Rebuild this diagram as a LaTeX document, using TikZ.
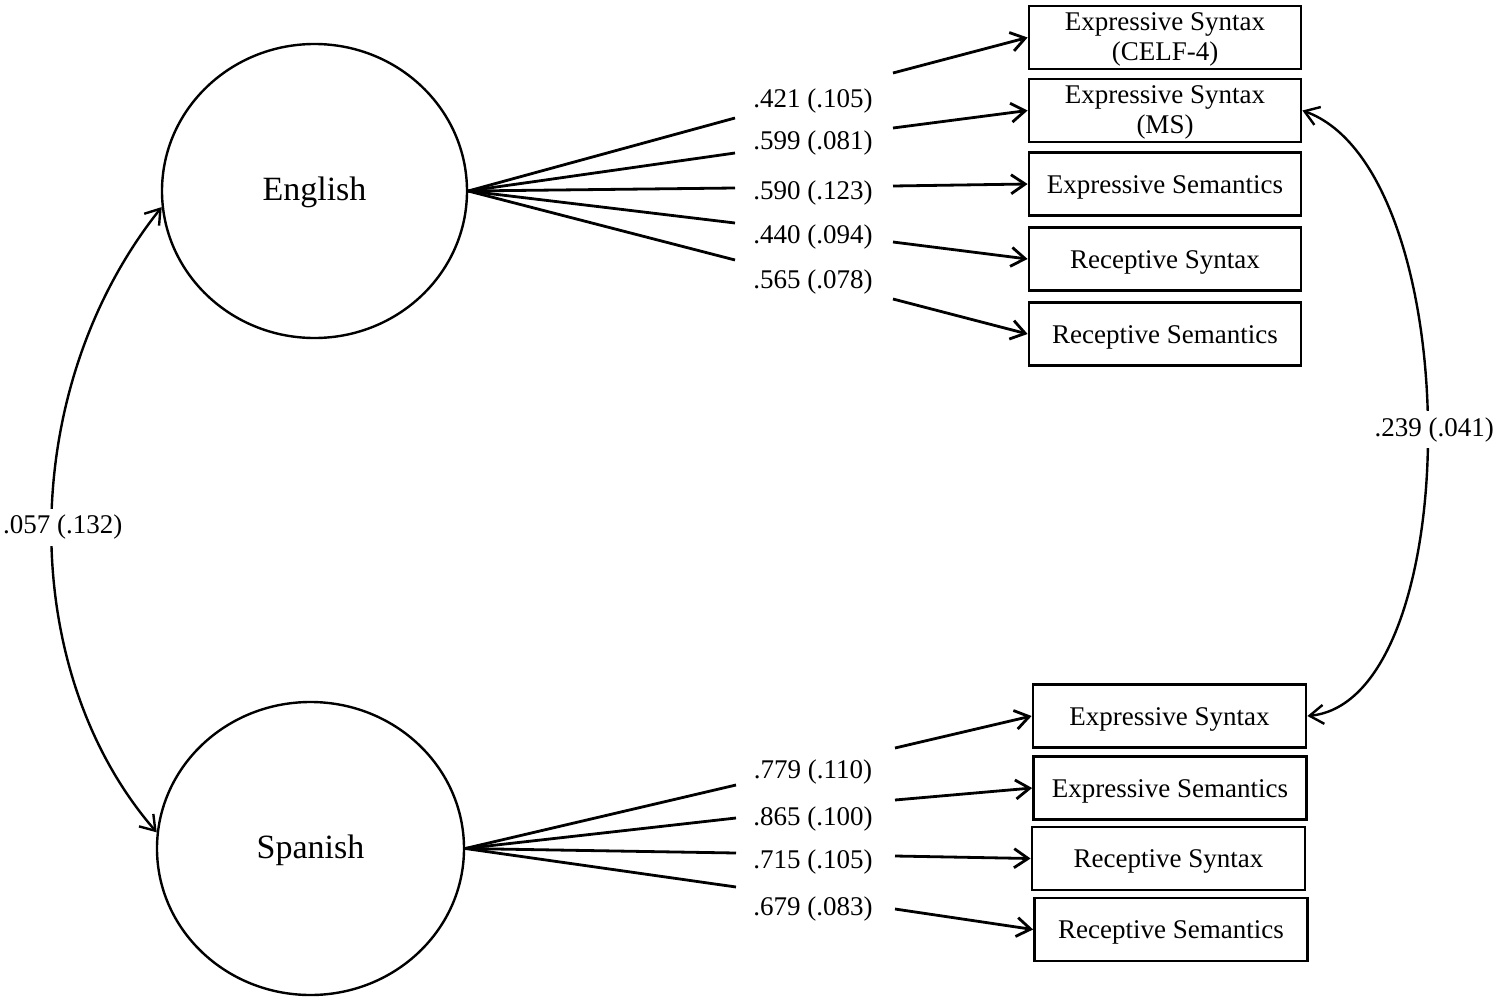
\documentclass[tikz,border=0pt]{standalone}
\usepackage{fontspec}
\setmainfont{Liberation Serif}
\usetikzlibrary{arrows.meta,shapes.geometric}
\begin{document}
\begin{tikzpicture}[x=1pt,y=-1pt,
  lat/.style={ellipse, draw, line width=2.4pt, inner sep=0pt, text height=26pt, text depth=7pt, font=\fontsize{34}{40}\selectfont},
  obs/.style={rectangle, draw, line width=2.8pt, minimum width=272pt, minimum height=63pt, inner sep=0pt, align=center, text height=24pt, text depth=6pt, font=\fontsize{27}{30}\selectfont},
  lbl/.style={font=\fontsize{27}{30}\selectfont, inner sep=1pt},
  ln/.style={line width=2.8pt},
  arr/.style={line width=2.8pt, -{Straight Barb[length=14pt,width=19pt]}},
  cov/.style={line width=2.4pt, {Straight Barb[length=14pt,width=19pt]}-{Straight Barb[length=14pt,width=19pt]}}
]
\useasboundingbox (0,0) rectangle (1500,1001);

% latent variables
\node[lat, minimum width=305pt, minimum height=294pt] (eng) at (314.5,191) {English};
\node[lat, minimum width=307pt, minimum height=293pt] (spa) at (310.5,848.5) {Spanish};

% English indicators
\node[obs, text height=51pt] (eb1) at (1165,37.5) {Expressive Syntax\\(CELF-4)};
\node[obs, text height=51pt] (eb2) at (1165,110.5) {Expressive Syntax\\(MS)};
\node[obs] (eb3) at (1165,184) {Expressive Semantics};
\node[obs] (eb4) at (1165,259) {Receptive Syntax};
\node[obs] (eb5) at (1165,334) {Receptive Semantics};

% Spanish indicators
\node[obs, minimum width=273pt] (sb1) at (1169.5,716) {Expressive Syntax};
\node[obs, minimum width=273pt] (sb2) at (1170,788) {Expressive Semantics};
\node[obs, minimum width=273pt] (sb3) at (1168.5,858.5) {Receptive Syntax};
\node[obs, minimum width=273pt] (sb4) at (1171,929.5) {Receptive Semantics};

% English loading labels
\node[lbl] (el1) at (813,101) {.421 (.105)};
\node[lbl] (el2) at (813,143) {.599 (.081)};
\node[lbl] (el3) at (813,193) {.590 (.123)};
\node[lbl] (el4) at (813,237) {.440 (.094)};
\node[lbl] (el5) at (813,282) {.565 (.078)};

% Spanish loading labels
\node[lbl] (sl1) at (813,772) {.779 (.110)};
\node[lbl] (sl2) at (813,819) {.865 (.100)};
\node[lbl] (sl3) at (813,862) {.715 (.105)};
\node[lbl] (sl4) at (813,909) {.679 (.083)};

% English line break points
\coordinate (ea1) at (735,118);
\coordinate (ea2) at (735,153);
\coordinate (ea3) at (735,188);
\coordinate (ea4) at (735,223);
\coordinate (ea5) at (735,260);
\coordinate (ec1) at (893,73);
\coordinate (ec2) at (893,128);
\coordinate (ec3) at (893,186);
\coordinate (ec4) at (893,242);
\coordinate (ec5) at (893,299);

% Spanish line break points
\coordinate (sa1) at (736,785);
\coordinate (sa2) at (736,818);
\coordinate (sa3) at (736,853);
\coordinate (sa4) at (736,887);
\coordinate (sc1) at (895,748);
\coordinate (sc2) at (895,800);
\coordinate (sc3) at (895,856);
\coordinate (sc4) at (895,909);

% English loadings
\foreach \i in {1,...,5}{
  \draw[ln] (eng.east) -- (ea\i);
  \draw[arr] (ec\i) -- (eb\i.west);
}
% Spanish loadings
\foreach \i in {1,...,4}{
  \draw[ln] (spa.east) -- (sa\i);
  \draw[arr] (sc\i) -- (sb\i.west);
}

% covariances
\draw[cov] (spa.174) .. controls (16,670) and (16,390) .. (eng.186)
  node[pos=0.5, fill=white, lbl, inner ysep=6pt, xshift=11pt] (cv1) {.057 (.132)};
\draw[cov] (eb2.east) .. controls (1468,170) and (1468,700) .. (sb1.east)
  node[pos=0.5, fill=white, lbl, inner ysep=6pt, xshift=7pt] (cv2) {.239 (.041)};
\end{tikzpicture}
\end{document}
